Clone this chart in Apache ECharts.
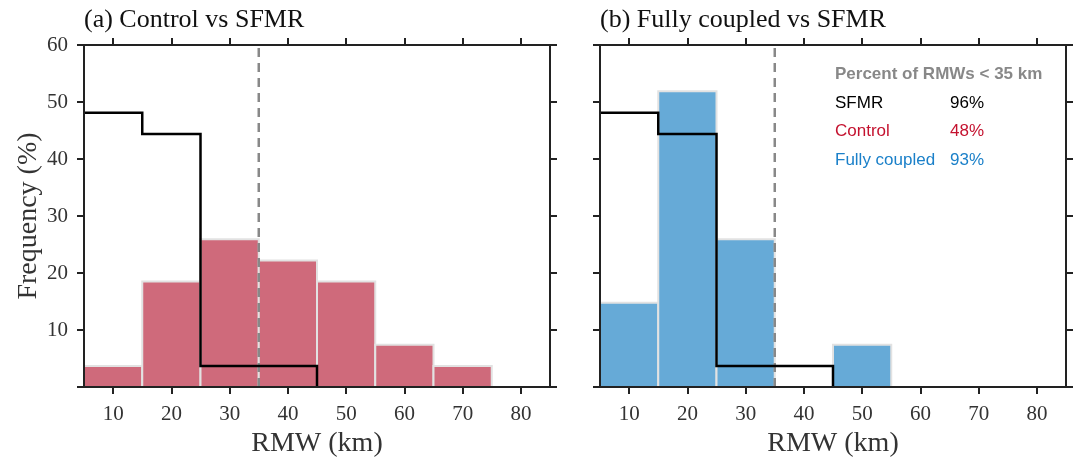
<!DOCTYPE html>
<html>
<head>
<meta charset="utf-8">
<script src="https://cdn.jsdelivr.net/npm/echarts@6/dist/echarts.min.js"></script>
<style>
html,body{margin:0;padding:0;background:#fff;}
#chart{width:1078px;height:463px;}
</style>
</head>
<body>
<div id="chart"></div>
<script>
// ---- data ----
const binStarts = [5, 15, 25, 35, 45, 55, 65];
const binWidth = 10;
const controlFreq = [3.7, 18.5, 25.9, 22.2, 18.5, 7.4, 3.7];
const coupledFreq = [14.8, 51.9, 25.9, 0, 7.4, 0, 0];
const sfmrFreq = [48.1, 44.4, 3.7, 3.7, 0, 0, 0];
const xTicks = [10, 20, 30, 40, 50, 60, 70, 80];
const yTicks = [0, 10, 20, 30, 40, 50, 60];
const threshold = 35;
const panelTitles = ['(a) Control vs SFMR', '(b) Fully coupled vs SFMR'];
const legendTitle = 'Percent of RMWs < 35 km';
const legendNames = ['SFMR', 'Control', 'Fully coupled'];
const legendValues = ['96%', '48%', '93%'];

// ---- helpers ----
const serif = '"Liberation Serif", "Times New Roman", serif';
const sans = '"Liberation Sans", Arial, sans-serif';
const axisColor = '#222';

function stepData(vals) {
  let last = -1;
  vals.forEach((v, i) => { if (v > 0) last = i; });
  const pts = [];
  for (let i = 0; i <= last; i++) {
    pts.push([binStarts[i], vals[i]]);
    pts.push([binStarts[i] + binWidth, vals[i]]);
  }
  pts.push([binStarts[last] + binWidth, 0]);
  return pts;
}

function histSeries(vals, color, idx) {
  return {
    type: 'custom',
    xAxisIndex: idx * 2,
    yAxisIndex: idx * 2,
    z: 2,
    data: binStarts.map((s, i) => [s, s + binWidth, vals[i]]),
    renderItem: function (params, api) {
      const p0 = api.coord([api.value(0), api.value(2)]);
      const p1 = api.coord([api.value(1), 0]);
      return {
        type: 'rect',
        shape: { x: p0[0], y: p0[1], width: p1[0] - p0[0], height: p1[1] - p0[1] },
        style: { fill: color, stroke: '#e2e2e2', lineWidth: 2 }
      };
    }
  };
}

function xAxes(gridIndex) {
  return [
    {
      type: 'value', gridIndex, position: 'bottom', min: 5, max: 85, z: 10,
      name: 'RMW (km)', nameLocation: 'middle', nameGap: 37,
      nameTextStyle: { fontFamily: serif, fontSize: 28, color: '#333' },
      axisLine: { show: true, onZero: false, lineStyle: { color: axisColor, width: 2 } },
      axisTick: { show: true, inside: false, length: 7, lineStyle: { color: axisColor, width: 2 }, customValues: xTicks },
      axisLabel: { show: true, fontFamily: serif, fontSize: 21, color: '#333', margin: 17, customValues: xTicks },
      splitLine: { show: false }
    },
    {
      type: 'value', gridIndex, position: 'top', min: 5, max: 85, z: 10,
      axisLine: { show: true, onZero: false, lineStyle: { color: axisColor, width: 2 } },
      axisTick: { show: true, inside: false, length: 7, lineStyle: { color: axisColor, width: 2 }, customValues: xTicks },
      axisLabel: { show: false },
      splitLine: { show: false }
    }
  ];
}

function yAxes(gridIndex, showLabels) {
  return [
    {
      type: 'value', gridIndex, position: 'left', min: 0, max: 60, interval: 10, z: 10,
      name: showLabels ? 'Frequency (%)' : '', nameLocation: 'middle', nameGap: 40,
      nameTextStyle: { fontFamily: serif, fontSize: 28, color: '#333' },
      axisLine: { show: true, onZero: false, lineStyle: { color: axisColor, width: 2 } },
      axisTick: { show: true, inside: false, length: 7, lineStyle: { color: axisColor, width: 2 } },
      axisLabel: { show: showLabels, fontFamily: serif, fontSize: 21, color: '#333', margin: 16,
        formatter: v => (v === 0 ? '' : String(v)) },
      splitLine: { show: false }
    },
    {
      type: 'value', gridIndex, position: 'right', min: 0, max: 60, interval: 10, z: 10,
      axisLine: { show: true, onZero: false, lineStyle: { color: axisColor, width: 2 } },
      axisTick: { show: true, inside: false, length: 7, lineStyle: { color: axisColor, width: 2 } },
      axisLabel: { show: false },
      splitLine: { show: false }
    }
  ];
}

function stepSeries(idx) {
  return {
    type: 'line', xAxisIndex: idx * 2, yAxisIndex: idx * 2, z: 5,
    data: stepData(sfmrFreq), symbol: 'none', silent: true,
    lineStyle: { color: '#000', width: 2.5, join: 'miter' }
  };
}

function dashSeries(idx) {
  return {
    type: 'line', xAxisIndex: idx * 2, yAxisIndex: idx * 2, z: 4,
    data: [[threshold, 0], [threshold, 60]], symbol: 'none', silent: true,
    lineStyle: { color: '#888', width: 2.5, type: [9, 6] }
  };
}

const chart = echarts.init(document.getElementById('chart'), null, { renderer: 'canvas' });

const legendX = 835, legendValX = 950, legendY = [103, 131.5, 160];
const legendColors = ['#000', '#c4122f', '#1b80c9'];
const graphics = [
  { type: 'text', x: 84, y: 20, style: { text: panelTitles[0], font: '26px ' + serif, fill: '#111', verticalAlign: 'middle' } },
  { type: 'text', x: 600, y: 20, style: { text: panelTitles[1], font: '26px ' + serif, fill: '#111', verticalAlign: 'middle' } },
  { type: 'text', x: legendX, y: 74, style: { text: legendTitle, font: 'bold 17px ' + sans, fill: '#888', verticalAlign: 'middle' } }
];
legendNames.forEach((n, i) => {
  graphics.push({ type: 'text', x: legendX, y: legendY[i], style: { text: n, font: '17px ' + sans, fill: legendColors[i], verticalAlign: 'middle' } });
  graphics.push({ type: 'text', x: legendValX, y: legendY[i], style: { text: legendValues[i], font: '17px ' + sans, fill: legendColors[i], verticalAlign: 'middle' } });
});

chart.setOption({
  animation: false,
  backgroundColor: '#fff',
  grid: [
    { left: 84, top: 45, width: 466, height: 342 },
    { left: 600, top: 45, width: 466, height: 342 }
  ],
  xAxis: [...xAxes(0), ...xAxes(1)],
  yAxis: [...yAxes(0, true), ...yAxes(1, false)],
  series: [
    histSeries(controlFreq, '#cf6a7b', 0),
    dashSeries(0),
    stepSeries(0),
    histSeries(coupledFreq, '#66aad7', 1),
    dashSeries(1),
    stepSeries(1)
  ],
  graphic: graphics
});
</script>
</body>
</html>
